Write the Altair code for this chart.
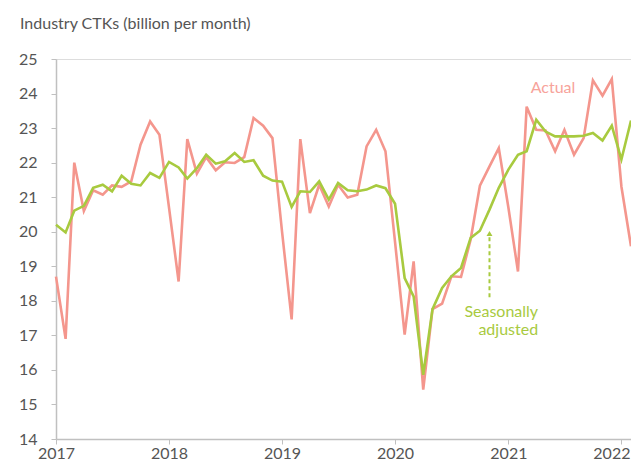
import altair as alt
import pandas as pd

months = pd.date_range("2017-01-01", "2022-02-01", freq="MS").strftime("%Y-%m-%dT00:00:00").tolist()

actual = [
    18.7, 16.9, 22.0, 20.6, 21.2, 21.07, 21.34, 21.3, 21.46, 22.52, 23.19, 22.81,
    20.7, 18.56, 22.68, 21.68, 22.16, 21.78, 22.01, 21.99, 22.16, 23.29, 23.07, 22.71,
    20.0, 17.46, 22.68, 20.54, 21.36, 20.73, 21.36, 20.99, 21.07, 22.47, 22.95, 22.33,
    19.7, 17.02, 19.14, 15.43, 17.76, 17.92, 18.71, 18.69, 19.77, 21.33, 21.89, 22.42,
    20.7, 18.85, 23.62, 22.95, 22.93, 22.33, 22.95, 22.23, 22.71, 24.38, 23.94, 24.42,
    21.31, 19.58,
]

seasonally_adjusted = [
    20.2, 19.98, 20.61, 20.75, 21.27, 21.36, 21.17, 21.62, 21.39, 21.34, 21.70, 21.56,
    22.02, 21.86, 21.54, 21.84, 22.23, 21.97, 22.04, 22.28, 22.02, 22.07, 21.62, 21.48,
    21.45, 20.72, 21.17, 21.15, 21.46, 20.93, 21.41, 21.2, 21.17, 21.22, 21.34, 21.26,
    20.81, 18.66, 18.13, 15.86, 17.76, 18.37, 18.71, 18.95, 19.82, 20.03, 20.64, 21.27,
    21.8, 22.23, 22.33, 23.24, 22.9, 22.76, 22.76, 22.76, 22.78, 22.86, 22.64, 23.07,
    22.09, 23.22,
]

y_ticks = list(range(14, 26))
x_ticks = [alt.DateTime(year=y, month=1, date=1) for y in range(2017, 2023)]

RED = "#f4968d"
GREEN = "#a8ca3f"
FONT = "Lato"

df = pd.DataFrame({"month": months, "Actual": actual, "Seasonally adjusted": seasonally_adjusted})
long = df.melt("month", var_name="series", value_name="value")

x_scale = alt.Scale(domain=[alt.DateTime(year=2017, month=1, date=1), alt.DateTime(year=2022, month=2, date=1)])
x_axis = alt.Axis(
    values=x_ticks, format="%Y", title=None, grid=False,
    domainColor="#c0c0c0", tickColor="#c0c0c0", tickSize=5, domainWidth=1.5,
    labelColor="#555555", labelFont=FONT, labelFontSize=16, labelPadding=1,
    labelOverlap=False, labelFlush=False,
    labelOffset={"expr": "year(datum.value) >= 2022 ? -10 : 0"},
)
y_scale = alt.Scale(domain=[14, 25], nice=False, zero=False)
y_axis = alt.Axis(
    values=y_ticks, title=None, grid=False, labelOverlap=False, tickCount=12,
    domainColor="#c0c0c0", tickColor="#c0c0c0", tickSize=5, domainWidth=1.5,
    labelColor="#555555", labelFont=FONT, labelFontSize=16, labelPadding=14,
)


def X(field):
    return alt.X(field, type="temporal", scale=x_scale, axis=x_axis)


def Y(field):
    return alt.Y(field, type="quantitative", scale=y_scale, axis=y_axis)


lines = alt.Chart(long).mark_line(strokeWidth=2.6).encode(
    x=X("month"),
    y=Y("value"),
    color=alt.Color("series:N", scale=alt.Scale(domain=["Actual", "Seasonally adjusted"], range=[RED, GREEN]), legend=None),
    order=alt.Order("series:N", sort="ascending"),
)

arrow_df = pd.DataFrame({"month": ["2020-11-01T00:00:00"], "y1": [18.1], "y2": [19.85], "tip": [19.95]})
arrow_line = alt.Chart(arrow_df).mark_rule(color=GREEN, strokeWidth=2, strokeDash=[4, 3]).encode(
    x=X("month"), y=Y("y1"), y2="y2:Q"
)
arrow_head = alt.Chart(arrow_df).mark_point(shape="triangle-up", filled=True, color=GREEN, size=35, opacity=1).encode(
    x=X("month"), y=Y("tip")
)

label_actual = alt.Chart(pd.DataFrame({"month": ["2021-05-25T00:00:00"], "v": [24.17], "t": ["Actual"]})).mark_text(
    font=FONT, fontSize=16, color="#f7a39b", align="center", baseline="middle"
).encode(x=X("month"), y=Y("v"), text="t:N")

label_sa = alt.Chart(pd.DataFrame({"month": ["2021-04-07T00:00:00"], "v": [17.67]})).mark_text(
    font=FONT, fontSize=16, color=GREEN, align="right", baseline="middle", lineHeight=17.5,
    text=["Seasonally", "adjusted"],
).encode(x=X("month"), y=Y("v"))

title = alt.Chart(pd.DataFrame({"t": ["Industry CTKs (billion per month)"]})).mark_text(
    font=FONT, fontSize=16, color="#555555", align="left", baseline="alphabetic"
).encode(x=alt.value(-36), y=alt.value(-30), text="t:N")

chart = alt.layer(lines, arrow_line, arrow_head, label_actual, label_sa, title).properties(
    width=575, height=380,
    autosize=alt.AutoSizeParams(type="none"),
    padding={"left": 48, "top": 51, "right": 0, "bottom": 22},
).configure_view(stroke=None).configure(background="white")

chart.save("out.html", embed_options={"renderer": "svg", "actions": False})
